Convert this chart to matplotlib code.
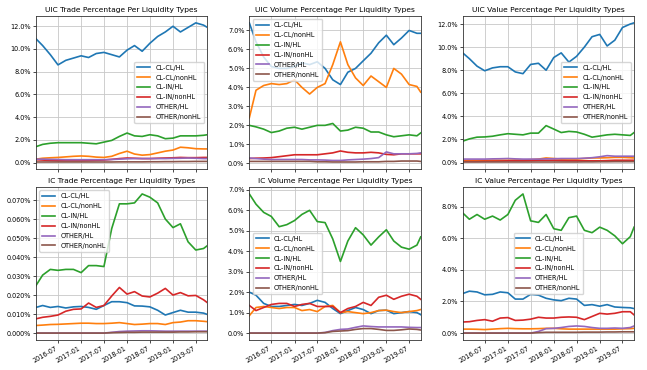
import matplotlib
matplotlib.use("Agg")
import matplotlib.pyplot as plt
import matplotlib.dates as mdates
import matplotlib.ticker as mtick
import pandas as pd

dates = ([pd.Timestamp("2016-01-08")] + list(pd.date_range("2016-03-01", periods=22, freq="2MS"))
         + [pd.Timestamp("2019-10-01")])
series_names = ["CL-CL/HL", "CL-CL/nonHL", "CL-IN/HL", "CL-IN/nonHL", "OTHER/HL", "OTHER/nonHL"]
titles = ["UIC Trade Percentage Per Liquidity Types", "UIC Volume Percentage Per Liquidity Types",
          "UIC Value Percentage Per Liquidity Types", "IC Trade Percentage Per Liquidity Types",
          "IC Volume Percentage Per Liquidity Types", "IC Value Percentage Per Liquidity Types"]

# values in percent
uic_trade = [
    [10.9, 10.3, 9.5, 8.6, 9.0, 9.2, 9.4, 9.25, 9.6, 9.7, 9.5, 9.3, 9.9, 10.3, 9.8, 10.5, 11.1, 11.5, 12.0, 11.5, 11.9, 12.3, 12.1, 11.9],
    [0.3, 0.38, 0.42, 0.45, 0.5, 0.55, 0.58, 0.55, 0.48, 0.45, 0.55, 0.8, 1.0, 0.75, 0.65, 0.7, 0.85, 1.0, 1.1, 1.35, 1.3, 1.22, 1.2, 1.2],
    [1.4, 1.6, 1.7, 1.75, 1.75, 1.75, 1.75, 1.7, 1.65, 1.8, 1.95, 2.3, 2.6, 2.35, 2.3, 2.45, 2.35, 2.1, 2.15, 2.35, 2.35, 2.35, 2.4, 2.45],
    [0.25, 0.22, 0.18, 0.15, 0.15, 0.15, 0.15, 0.17, 0.2, 0.22, 0.28, 0.35, 0.4, 0.38, 0.35, 0.35, 0.38, 0.4, 0.42, 0.45, 0.43, 0.43, 0.45, 0.45],
    [0.3, 0.3, 0.28, 0.27, 0.25, 0.25, 0.25, 0.25, 0.25, 0.25, 0.27, 0.3, 0.33, 0.35, 0.35, 0.35, 0.35, 0.35, 0.37, 0.38, 0.4, 0.38, 0.35, 0.35],
    [0.05, 0.05, 0.05, 0.05, 0.05, 0.05, 0.05, 0.05, 0.05, 0.05, 0.05, 0.06, 0.06, 0.06, 0.06, 0.07, 0.07, 0.08, 0.08, 0.09, 0.09, 0.1, 0.1, 0.1],
]
uic_volume = [
    [7.4, 6.4, 5.6, 5.1, 5.0, 5.0, 5.1, 5.3, 5.2, 5.35, 5.0, 4.4, 4.15, 4.8, 5.0, 5.4, 5.8, 6.35, 6.75, 6.25, 6.6, 7.0, 6.85, 6.85],
    [2.4, 3.85, 4.1, 4.2, 4.15, 4.2, 4.4, 4.0, 3.65, 4.0, 4.2, 5.2, 6.4, 5.2, 4.5, 4.1, 4.6, 4.3, 4.0, 5.0, 4.7, 4.15, 4.05, 3.75],
    [2.0, 1.92, 1.8, 1.62, 1.7, 1.85, 1.9, 1.8, 1.9, 2.0, 2.0, 2.1, 1.7, 1.75, 1.9, 1.85, 1.65, 1.65, 1.5, 1.4, 1.45, 1.5, 1.45, 1.6],
    [0.25, 0.27, 0.28, 0.3, 0.35, 0.4, 0.45, 0.45, 0.45, 0.45, 0.5, 0.55, 0.65, 0.58, 0.55, 0.55, 0.58, 0.55, 0.47, 0.45, 0.5, 0.5, 0.5, 0.5],
    [0.28, 0.25, 0.22, 0.2, 0.2, 0.2, 0.2, 0.2, 0.18, 0.18, 0.17, 0.15, 0.15, 0.18, 0.2, 0.22, 0.25, 0.3, 0.6, 0.5, 0.5, 0.5, 0.52, 0.55],
    [0.1, 0.1, 0.1, 0.1, 0.1, 0.1, 0.1, 0.1, 0.1, 0.08, 0.08, 0.07, 0.07, 0.07, 0.07, 0.08, 0.08, 0.08, 0.1, 0.1, 0.12, 0.12, 0.12, 0.1],
]
uic_value = [
    [9.5, 9.0, 8.35, 7.95, 8.2, 8.3, 8.3, 7.85, 7.7, 8.5, 8.6, 8.0, 9.1, 9.5, 8.7, 9.2, 10.0, 10.9, 11.1, 10.1, 10.6, 11.7, 12.0, 12.1],
    [0.15, 0.15, 0.17, 0.18, 0.2, 0.2, 0.2, 0.22, 0.22, 0.25, 0.3, 0.4, 0.35, 0.3, 0.3, 0.3, 0.35, 0.4, 0.4, 0.42, 0.45, 0.45, 0.42, 0.4],
    [1.85, 2.05, 2.2, 2.22, 2.28, 2.4, 2.5, 2.45, 2.4, 2.55, 2.55, 3.2, 2.9, 2.6, 2.7, 2.65, 2.45, 2.2, 2.3, 2.4, 2.45, 2.4, 2.35, 2.6],
    [0.1, 0.1, 0.1, 0.12, 0.12, 0.13, 0.15, 0.15, 0.15, 0.17, 0.2, 0.2, 0.2, 0.17, 0.15, 0.15, 0.15, 0.15, 0.15, 0.17, 0.2, 0.2, 0.2, 0.2],
    [0.3, 0.3, 0.3, 0.3, 0.32, 0.33, 0.35, 0.32, 0.3, 0.3, 0.3, 0.32, 0.33, 0.35, 0.35, 0.35, 0.38, 0.42, 0.5, 0.6, 0.55, 0.55, 0.55, 0.55],
    [0.05, 0.05, 0.05, 0.05, 0.05, 0.05, 0.05, 0.05, 0.05, 0.05, 0.05, 0.05, 0.05, 0.05, 0.05, 0.05, 0.06, 0.06, 0.07, 0.07, 0.08, 0.08, 0.08, 0.08],
]
ic_trade = [
    [0.0135, 0.0145, 0.0135, 0.014, 0.0132, 0.0138, 0.014, 0.0135, 0.0125, 0.0145, 0.0165, 0.0165, 0.016, 0.0143, 0.0142, 0.0138, 0.012, 0.0095, 0.0108, 0.012, 0.011, 0.011, 0.0105, 0.0098],
    [0.004, 0.0042, 0.0045, 0.0046, 0.0048, 0.005, 0.0052, 0.0052, 0.005, 0.005, 0.0052, 0.0055, 0.005, 0.0045, 0.0047, 0.005, 0.005, 0.0045, 0.0055, 0.0058, 0.0065, 0.0065, 0.0062, 0.006],
    [0.025, 0.0305, 0.0335, 0.033, 0.0335, 0.0335, 0.0318, 0.0355, 0.0355, 0.035, 0.055, 0.068, 0.068, 0.0685, 0.0732, 0.0715, 0.0685, 0.06, 0.0555, 0.0575, 0.048, 0.0437, 0.0445, 0.046],
    [0.0075, 0.0083, 0.0088, 0.0095, 0.0115, 0.0125, 0.0127, 0.0158, 0.0135, 0.0145, 0.0195, 0.024, 0.0205, 0.0218, 0.0195, 0.019, 0.021, 0.0235, 0.02, 0.0213, 0.0196, 0.0198, 0.0175, 0.016],
    [0, 0, 0, 0, 0, 0, 0, 0, 0, 0, 0.0004, 0.0008, 0.001, 0.0011, 0.0012, 0.0012, 0.0011, 0.001, 0.001, 0.001, 0.001, 0.001, 0.001, 0.001],
    [0, 0, 0, 0, 0, 0, 0, 0, 0, 0, 0.0002, 0.0003, 0.0004, 0.0004, 0.0005, 0.0005, 0.0005, 0.0005, 0.0005, 0.0006, 0.0006, 0.0007, 0.0007, 0.0007],
]
ic_volume = [
    [2.0, 1.85, 1.45, 1.3, 1.3, 1.35, 1.4, 1.35, 1.45, 1.6, 1.5, 1.2, 0.95, 1.1, 1.25, 1.15, 0.95, 1.1, 1.12, 0.95, 1.0, 1.05, 1.0, 0.9],
    [0.85, 1.25, 1.3, 1.25, 1.2, 1.25, 1.25, 1.1, 1.15, 1.05, 1.3, 1.35, 1.0, 1.05, 1.0, 0.95, 1.0, 1.1, 1.12, 1.05, 1.0, 1.05, 1.1, 1.15],
    [6.8, 6.3, 5.9, 5.7, 5.2, 5.3, 5.5, 5.8, 6.0, 5.45, 5.4, 4.6, 3.5, 4.5, 5.15, 4.8, 4.3, 4.7, 5.05, 4.5, 4.2, 4.1, 4.3, 4.7],
    [1.35, 1.1, 1.25, 1.4, 1.45, 1.45, 1.3, 1.4, 1.45, 1.3, 1.3, 1.3, 1.0, 1.2, 1.3, 1.5, 1.35, 1.75, 1.85, 1.65, 1.8, 1.9, 1.8, 1.65],
    [0, 0, 0, 0, 0, 0, 0, 0, 0, 0, 0.03, 0.12, 0.18, 0.2, 0.28, 0.35, 0.32, 0.3, 0.3, 0.3, 0.3, 0.28, 0.27, 0.27],
    [0, 0, 0, 0, 0, 0, 0, 0, 0, 0, 0.02, 0.08, 0.1, 0.12, 0.18, 0.22, 0.22, 0.18, 0.13, 0.13, 0.16, 0.2, 0.18, 0.15],
]
ic_value = [
    [2.5, 2.65, 2.6, 2.42, 2.45, 2.6, 2.55, 2.15, 2.15, 2.45, 2.4, 2.2, 2.1, 2.05, 2.2, 2.15, 1.75, 1.8, 1.7, 1.8, 1.65, 1.62, 1.6, 1.55],
    [0.25, 0.25, 0.24, 0.22, 0.25, 0.28, 0.3, 0.28, 0.27, 0.27, 0.28, 0.3, 0.3, 0.27, 0.25, 0.25, 0.25, 0.25, 0.25, 0.25, 0.25, 0.27, 0.28, 0.3],
    [7.6, 7.2, 7.5, 7.2, 7.4, 7.15, 7.5, 8.4, 8.8, 7.1, 7.0, 7.5, 6.6, 6.5, 7.3, 7.4, 6.5, 6.35, 6.7, 6.5, 6.15, 5.65, 6.1, 6.7],
    [0.7, 0.72, 0.8, 0.85, 0.75, 0.95, 0.98, 0.8, 0.82, 0.88, 1.0, 0.95, 0.95, 1.0, 1.02, 1.0, 0.85, 1.05, 1.25, 1.2, 1.25, 1.35, 1.35, 1.15],
    [0, 0, 0, 0, 0, 0, 0, 0, 0, 0, 0.1, 0.28, 0.3, 0.35, 0.42, 0.45, 0.42, 0.35, 0.3, 0.3, 0.32, 0.3, 0.35, 0.45],
    [0, 0, 0, 0, 0, 0, 0, 0, 0, 0, 0.03, 0.05, 0.05, 0.05, 0.05, 0.05, 0.06, 0.06, 0.06, 0.07, 0.07, 0.08, 0.08, 0.08],
]

panels = [uic_trade, uic_volume, uic_value, ic_trade, ic_volume, ic_value]
legend_locs = ["center right", "upper left", "center right", "upper left", "center left", "center"]
colors = ["#1f77b4", "#ff7f0e", "#2ca02c", "#d62728", "#9467bd", "#8c564b"]

fig, axes = plt.subplots(2, 3, figsize=(6.47, 3.70), dpi=100, sharex=True)
fig.subplots_adjust(left=0.0556, right=0.98, bottom=0.081, top=0.957, wspace=0.245, hspace=0.118)

for ax, data, title, loc in zip(axes.flat, panels, titles, legend_locs):
    for vals, name, c in zip(data, series_names, colors):
        ax.plot(dates, vals, color=c, lw=1.2, label=name)
    ax.set_title(title, fontsize=5.4, pad=3)
    ax.grid(True, color="#c8c8c8", lw=0.6)
    ax.yaxis.set_major_formatter(mtick.PercentFormatter(xmax=100))
    ax.tick_params(labelsize=4.7, length=2, width=0.5, pad=1.5)
    for s in ax.spines.values():
        s.set_linewidth(0.6)
        s.set_color("#333333")
    ax.legend(loc=loc, fontsize=4.7, frameon=True, framealpha=0.8, borderpad=0.45,
              labelspacing=0.6, handlelength=2.0)
    ax.set_xlim(dates[0], dates[-1])

ax0 = axes[1, 0]
ax0.xaxis.set_major_locator(mdates.MonthLocator(bymonth=[1, 7]))
ax0.xaxis.set_major_formatter(mdates.DateFormatter("%Y-%m"))
for ax in axes[1]:
    for lab in ax.get_xticklabels():
        lab.set_rotation(30)
        lab.set_ha("right")
for ax in axes[0]:
    ax.tick_params(labelbottom=False)

fig.savefig("out.png", dpi=100)
